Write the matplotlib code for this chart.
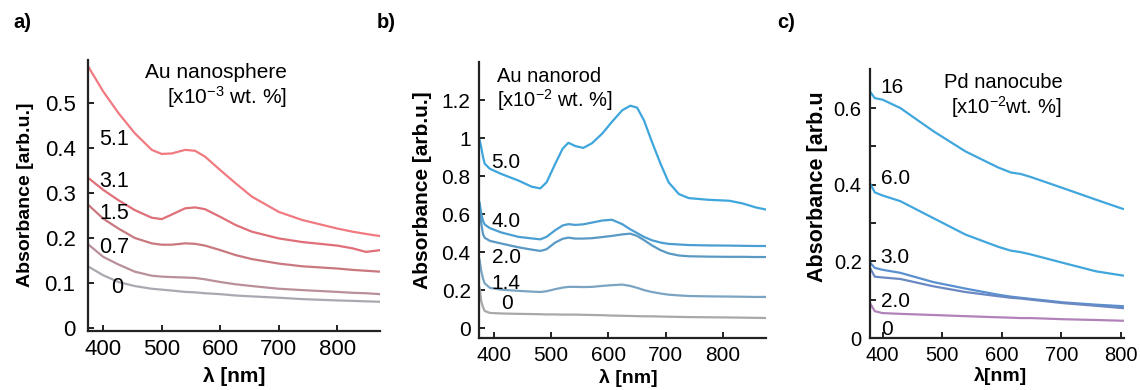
import numpy as np
import matplotlib
matplotlib.use("Agg")
from matplotlib import pyplot as plt

plt.rcParams['font.family'] = ['Liberation Sans', 'DejaVu Sans']
plt.rcParams['mathtext.fontset'] = 'custom'
plt.rcParams['mathtext.rm'] = 'Liberation Sans'
plt.rcParams['mathtext.it'] = 'Liberation Sans:italic'
plt.rcParams['mathtext.bf'] = 'Liberation Sans:bold'

# panel a - Au nanosphere
wl_a = [375, 400, 426, 454, 483, 500, 517, 540, 557, 574, 600, 626, 654, 700, 740, 800, 826, 849, 874]
abs_a = {
    "5.1": [0.58, 0.526, 0.478, 0.433, 0.396, 0.387, 0.388, 0.396, 0.394, 0.381, 0.351, 0.322, 0.292, 0.258, 0.24, 0.221, 0.214, 0.209, 0.204],
    "3.1": [0.333, 0.307, 0.284, 0.262, 0.245, 0.242, 0.252, 0.266, 0.268, 0.264, 0.247, 0.229, 0.214, 0.199, 0.191, 0.183, 0.177, 0.169, 0.173],
    "1.5": [0.273, 0.243, 0.221, 0.2, 0.188, 0.185, 0.185, 0.188, 0.187, 0.183, 0.173, 0.162, 0.153, 0.143, 0.137, 0.132, 0.129, 0.127, 0.125],
    "0.7": [0.185, 0.158, 0.141, 0.125, 0.116, 0.114, 0.113, 0.112, 0.111, 0.108, 0.102, 0.097, 0.093, 0.087, 0.084, 0.08, 0.078, 0.077, 0.075],
    "0":   [0.136, 0.117, 0.102, 0.093, 0.087, 0.085, 0.083, 0.08, 0.079, 0.077, 0.075, 0.072, 0.07, 0.067, 0.064, 0.061, 0.06, 0.059, 0.058],
}
col_a = {"5.1": "#f07a80", "3.1": "#df6f78", "1.5": "#c9787f", "0.7": "#b99099", "0": "#a9a9b1"}
lab_a = {"5.1": 0.42, "3.1": 0.325, "1.5": 0.255, "0.7": 0.178, "0": 0.09}
lab_a_x = {"5.1": 393, "3.1": 393, "1.5": 393, "0.7": 393, "0": 414}

# panel b - Au nanorod
wl_b = [375, 378, 381, 384, 393, 413, 443, 466, 481, 492, 507, 520, 530, 542, 556, 571,
        589, 606, 624, 638, 650, 662, 676, 691, 705, 723, 740, 775, 811, 834, 857, 881]
abs_b = {
    "5.0": [0.99, 0.95, 0.9, 0.865, 0.838, 0.811, 0.776, 0.744, 0.735, 0.767, 0.864, 0.944, 0.975, 0.958, 0.948, 0.972,
            1.023, 1.085, 1.146, 1.17, 1.16, 1.093, 0.979, 0.864, 0.767, 0.705, 0.684, 0.675, 0.67, 0.656, 0.635, 0.62],
    "4.0": [0.661, 0.6, 0.564, 0.545, 0.526, 0.503, 0.48, 0.472, 0.467, 0.48, 0.515, 0.54, 0.547, 0.543, 0.546, 0.555,
            0.566, 0.57, 0.547, 0.52, 0.5, 0.48, 0.462, 0.45, 0.443, 0.44, 0.437, 0.435, 0.434, 0.433, 0.432, 0.432],
    "2.0": [0.617, 0.55, 0.494, 0.475, 0.459, 0.445, 0.425, 0.413, 0.406, 0.415, 0.45, 0.47, 0.476, 0.471, 0.471, 0.473,
            0.479, 0.485, 0.493, 0.497, 0.485, 0.463, 0.435, 0.41, 0.393, 0.382, 0.378, 0.376, 0.375, 0.375, 0.374, 0.374],
    "1.4": [0.36, 0.3, 0.26, 0.235, 0.212, 0.202, 0.196, 0.192, 0.19, 0.194, 0.205, 0.213, 0.217, 0.217, 0.216, 0.217,
            0.222, 0.226, 0.229, 0.222, 0.212, 0.2, 0.19, 0.182, 0.176, 0.172, 0.169, 0.167, 0.166, 0.165, 0.164, 0.164],
    "0":   [0.212, 0.14, 0.11, 0.09, 0.08, 0.077, 0.075, 0.074, 0.073, 0.072, 0.072, 0.071, 0.071, 0.071, 0.07, 0.069,
            0.068, 0.066, 0.065, 0.064, 0.063, 0.062, 0.062, 0.061, 0.06, 0.059, 0.058, 0.057, 0.056, 0.055, 0.054, 0.053],
}
col_b = {"5.0": "#3ea6dc", "4.0": "#4a9ed2", "2.0": "#5a99c4", "1.4": "#7aa4c2", "0": "#a8a8aa"}
lab_b = {"5.0": 0.87, "4.0": 0.56, "2.0": 0.37, "1.4": 0.235, "0": 0.13}
lab_b_x = {"5.0": 396, "4.0": 396, "2.0": 396, "1.4": 396, "0": 412}

# panel c - Pd nanocube
wl_c = [379, 387, 400, 430, 485, 539, 594, 615, 632, 649, 703, 758, 803]
abs_c = {
    "16":  [0.643, 0.626, 0.622, 0.6, 0.54, 0.487, 0.445, 0.432, 0.428, 0.42, 0.391, 0.361, 0.337],
    "6.0": [0.404, 0.38, 0.372, 0.357, 0.313, 0.27, 0.238, 0.228, 0.224, 0.218, 0.196, 0.174, 0.163],
    "3.0": [0.197, 0.183, 0.178, 0.17, 0.146, 0.129, 0.113, 0.108, 0.105, 0.102, 0.093, 0.087, 0.083],
    "2.0": [0.183, 0.16, 0.158, 0.154, 0.135, 0.12, 0.109, 0.105, 0.103, 0.1, 0.091, 0.084, 0.078],
    "0":   [0.091, 0.07, 0.065, 0.063, 0.06, 0.057, 0.054, 0.053, 0.052, 0.052, 0.049, 0.047, 0.045],
}
col_c = {"16": "#40a6dc", "6.0": "#40a6dc", "3.0": "#5a90d0", "2.0": "#6a88c2", "0": "#b082b8"}
lab_c = {"16": 0.655, "6.0": 0.415, "3.0": 0.21, "2.0": 0.095, "0": 0.022}

W, H = 1140, 390
fig = plt.figure(figsize=(W / 100, H / 100), dpi=100)


def box(x0, y0, x1, y1):
    # pixel box -> figure fraction
    return [x0 / W, 1 - y1 / H, (x1 - x0) / W, (y1 - y0) / H]


def ftext(x, y, s, **kw):
    fig.text(x / W, 1 - y / H, s, **kw)


def style(ax, fs):
    for s in ["top", "right"]:
        ax.spines[s].set_visible(False)
    for s in ["left", "bottom"]:
        ax.spines[s].set_linewidth(1.6)
        ax.spines[s].set_color("#222222")
    ax.tick_params(direction="in", length=4, width=1.4, color="#222222",
                   labelsize=fs, pad=6)


# --- a ---
ax = fig.add_axes(box(88, 60, 380, 331))
for k in abs_a:
    ax.plot(wl_a, abs_a[k], color=col_a[k], lw=1.6)
    ax.text(lab_a_x[k], lab_a[k], k, fontsize=15.5, ha="left", va="center")
ax.set_xlim(374, 873)
ax.set_ylim(-0.007, 0.596)
ax.set_xticks([400, 500, 600, 700, 800])
ax.set_yticks([0, 0.1, 0.2, 0.3, 0.4, 0.5])
ax.set_yticklabels(["0", "0.1", "0.2", "0.3", "0.4", "0.5"])
style(ax, 16)
ax.tick_params(axis="y", pad=9)
ftext(216, 72, "Au nanosphere", fontsize=15, ha="center", va="center")
ftext(287, 97, "[x10$^{-3}$ wt. %]", fontsize=15, ha="right", va="center")
ftext(26, 195, "Absorbance [arb.u.]", fontsize=14, fontweight="bold",
      rotation=90, ha="center", va="center")
ftext(234, 376, "λ [nm]", fontsize=15, fontweight="bold", ha="center", va="center")
ftext(22, 22, "a)", fontsize=14.5, fontweight="bold", ha="center", va="center")

# --- b ---
ax = fig.add_axes(box(479, 62, 766, 338))
for k in abs_b:
    ax.plot(wl_b, abs_b[k], color=col_b[k], lw=1.6)
    ax.text(lab_b_x[k], lab_b[k], k, fontsize=15, ha="left", va="center")
ax.set_xlim(374, 875)
ax.set_ylim(-0.052, 1.4)
ax.set_xticks([400, 500, 600, 700, 800])
ax.set_yticks([0, 0.2, 0.4, 0.6, 0.8, 1.0, 1.2])
ax.set_yticklabels(["0", "0.2", "0.4", "0.6", "0.8", "1", "1.2"])
style(ax, 15)
ftext(497, 77, "Au nanorod", fontsize=14.5, ha="left", va="center")
ftext(497, 100, "[x10$^{-2}$ wt. %]", fontsize=14.5, ha="left", va="center")
ftext(423, 190, "Absorbance [arb.u.]", fontsize=15, fontweight="bold",
      rotation=90, ha="center", va="center")
ftext(628, 378, "λ [nm]", fontsize=14, fontweight="bold", ha="center", va="center")
ftext(386, 22, "b)", fontsize=14.5, fontweight="bold", ha="center", va="center")

# --- c ---
ax = fig.add_axes(box(870, 69, 1124, 338))
for k in abs_c:
    ax.plot(wl_c, abs_c[k], color=col_c[k], lw=1.6)
    ax.text(397, lab_c[k], k, fontsize=15, ha="left", va="center")
ax.set_xlim(379, 805)
ax.set_ylim(0, 0.702)
ax.set_xticks([400, 500, 600, 700, 800])
ax.set_yticks([0, 0.1, 0.2, 0.3, 0.4, 0.5, 0.6])
ax.set_yticklabels(["0", "", "0.2", "", "0.4", "", "0.6"])
style(ax, 14.5)
ftext(1003, 83, "Pd nanocube", fontsize=14.5, ha="center", va="center")
ftext(1006, 107, "[x10$^{-2}$wt. %]", fontsize=14.5, ha="center", va="center")
ftext(818, 187, "Absorbance [arb.u", fontsize=15.5, fontweight="bold",
      rotation=90, ha="center", va="center")
ftext(1001, 376, "λ[nm]", fontsize=14, fontweight="bold", ha="center", va="center")
ftext(786, 22, "c)", fontsize=14.5, fontweight="bold", ha="center", va="center")

plt.savefig("out.png", dpi=100)
